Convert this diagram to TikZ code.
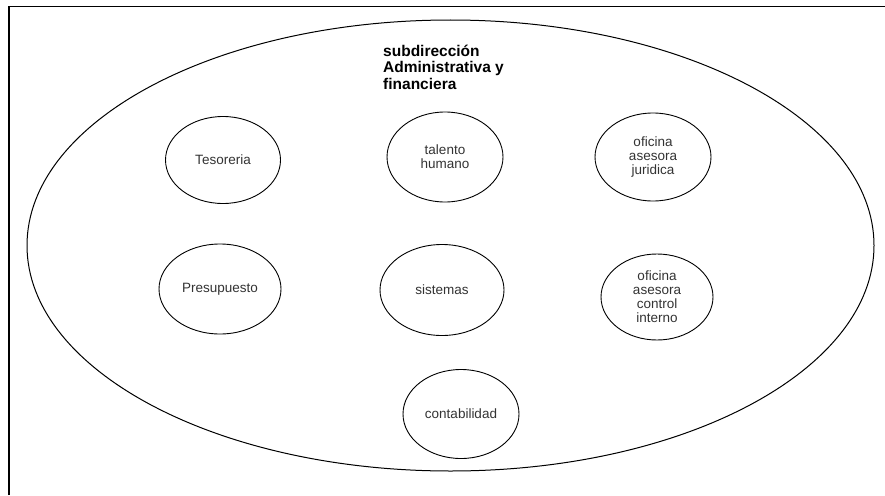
\documentclass[tikz,border=0pt]{standalone}
\usepackage{fontspec}
\setmainfont{Liberation Sans}
\usetikzlibrary{shapes.geometric}
\definecolor{txt}{HTML}{333333}
\begin{document}
\begin{tikzpicture}[x=1pt,y=-1pt,
  unit/.style={ellipse,draw=black,line width=0.9pt,inner sep=0pt,
    text=txt,font=\fontsize{13.5}{14}\selectfont,align=center},
  outer/.style={ellipse,draw=black,line width=1pt,inner sep=0pt}]
\useasboundingbox (0,0) rectangle (885,495);
\fill[white] (0,0) rectangle (885,495);
\coordinate (fb) at (9,495);
\coordinate (fc) at (9,6.5);
\coordinate (fr) at (885,6.5);
\draw[line width=1.3pt] (fb) -- (fc) -- (fr);
\node[outer,minimum width=847pt,minimum height=451pt] (big) at (450.5,245.5) {};
\node[anchor=north west,inner sep=0pt,align=left,font=\bfseries\fontsize{15.5}{16.5}\selectfont] (title) at (383,44.5)
  {subdirección\\Administrativa y\\financiera};
\node[unit,minimum width=115pt,minimum height=87pt] (teso) at (223,160) {Tesoreria};
\node[unit,minimum width=116pt,minimum height=90pt] (tal) at (445,157) {talento\\humano};
\node[unit,minimum width=116pt,minimum height=88pt] (jur) at (653,157) {oficina\\asesora\\juridica};
\node[unit,minimum width=122pt,minimum height=90pt] (pres) at (220,289) {Presupuesto};
\node[unit,minimum width=124pt,minimum height=91pt] (sis) at (442,290) {sistemas};
\node[unit,minimum width=112pt,minimum height=86pt] (ctrl) at (657,297) {oficina\\asesora\\control\\interno};
\node[unit,minimum width=116pt,minimum height=89pt] (cont) at (461,414) {contabilidad};
\end{tikzpicture}
\end{document}
